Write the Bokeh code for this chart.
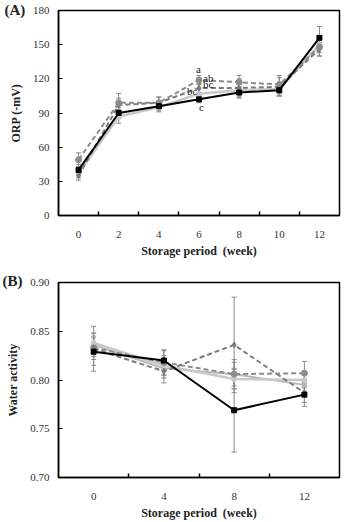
from bokeh.plotting import figure
from bokeh.layouts import column
from bokeh.models import FixedTicker, Whisker, ColumnDataSource, Label, Range1d, Title
from bokeh.embed import file_html
from bokeh.resources import INLINE

FONT = "Liberation Serif"

# ---------------- Panel A data (ORP) ----------------
weeks_a = [0, 2, 4, 6, 8, 10, 12]
orp_black = [40, 90, 96, 102, 108, 110, 156]
orp_black_err = [5, 5, 4, 3, 5, 5, 10]
orp_dash_circle = [49, 99, 99, 119, 117, 115, 148]
orp_dash_circle_err = [6, 8, 5, 4, 6, 8, 8]
orp_dash_diamond = [35, 97, 99, 112, 112, 113, 146]
orp_dash_diamond_err = [4, 6, 5, 4, 8, 8, 6]
orp_light = [37, 87, 95, 107, 110, 111, 150]
orp_light_err = [4, 6, 4, 4, 5, 6, 7]
letters_a = ["a", "ab", "bc", "bc", "c"]

# ---------------- Panel B data (water activity) ----------------
weeks_b = [0, 4, 8, 12]
aw_black = [0.829, 0.820, 0.769, 0.785]
aw_black_err = [0.014, 0.010, 0.043, 0.012]
aw_dash_diamond = [0.832, 0.809, 0.836, 0.787]
aw_dash_diamond_err = [0.023, 0.012, 0.049, 0.010]
aw_dash_circle = [0.833, 0.818, 0.806, 0.807]
aw_dash_circle_err = [0.012, 0.013, 0.015, 0.012]
aw_light = [0.838, 0.815, 0.801, 0.800]
aw_light_err = [0.010, 0.010, 0.010, 0.008]
aw_light2 = [0.836, 0.812, 0.806, 0.795]
aw_light2_err = [0.012, 0.010, 0.012, 0.010]

series_styles = {
    "black": dict(color="#000000", dash="solid", width=2, marker="square", size=5),
    "dash_circle": dict(color="#8c8c8c", dash="5 3", width=2, marker="circle", size=6),
    "dash_diamond": dict(color="#7a7a7a", dash="5 3", width=2, marker="diamond", size=6),
    "light": dict(color="#c8c8c8", dash="solid", width=2.5, marker="circle", size=5),
    "light2": dict(color="#b8b8b8", dash="solid", width=2, marker="triangle", size=5),
}


def style_fig(p, xticks, xminor, ylabel, yticks):
    p.outline_line_color = "black"
    p.outline_line_width = 1.5
    p.xgrid.visible = False
    p.ygrid.visible = False
    for ax in (p.xaxis[0], p.yaxis[0]):
        ax.axis_line_color = "black"
        ax.axis_line_width = 1.5
        ax.major_label_text_font = FONT
        ax.major_label_text_font_size = "11px"
        ax.major_label_text_color = "#333333"
        ax.axis_label_text_font = FONT
        ax.axis_label_text_font_style = "bold"
        ax.axis_label_text_font_size = "12px"
        ax.axis_label_text_color = "#222222"
    xa = p.xaxis[0]
    xa.ticker = FixedTicker(ticks=xticks, minor_ticks=xminor)
    xa.major_tick_line_color = None
    xa.minor_tick_in = 4
    xa.minor_tick_out = 0
    xa.minor_tick_line_color = "black"
    xa.minor_tick_line_width = 1.5
    xa.major_label_standoff = 9
    xa.axis_label = "Storage period\u00a0\u00a0(week)"
    xa.axis_label_standoff = 3
    ya = p.yaxis[0]
    ya.ticker = FixedTicker(ticks=yticks)
    ya.major_tick_in = 4
    ya.major_tick_out = 0
    ya.major_tick_line_color = "black"
    ya.minor_tick_line_color = None
    ya.major_label_standoff = 9
    ya.axis_label = ylabel
    ya.axis_label_standoff = 7


def add_series(p, x, y, err, key):
    st = series_styles[key]
    src = ColumnDataSource(dict(x=x, y=y,
                                lo=[v - e for v, e in zip(y, err)],
                                hi=[v + e for v, e in zip(y, err)]))
    w1 = Whisker(source=src, base="x", lower="lo", upper="hi",
                 line_color="#8a8a8a", line_width=1)
    w1.upper_head.size = 5
    w1.lower_head.size = 5
    w1.upper_head.line_color = "#8a8a8a"
    w1.lower_head.line_color = "#8a8a8a"
    p.add_layout(w1)
    p.line("x", "y", source=src, line_color=st["color"], line_width=st["width"],
           line_dash=st["dash"])
    p.scatter("x", "y", source=src, marker=st["marker"], size=st["size"],
              fill_color=st["color"], line_color=st["color"])


def panel_title(text, offset, standoff):
    return Title(text=text, align="left", offset=offset, standoff=standoff,
                 text_font=FONT, text_font_style="bold", text_font_size="15px",
                 text_color="#222222", vertical_align="bottom")


# ---------------- Figure A ----------------
pA = figure(width=344, height=260, output_backend="svg", toolbar_location=None,
            x_range=Range1d(-1, 13), y_range=Range1d(0, 180),
            min_border_left=57, min_border_right=2, min_border_top=10,
            min_border_bottom=39)
pA.title = None
pA.add_layout(panel_title("(A)", -54, -14), "above")
style_fig(pA, [0, 2, 4, 6, 8, 10, 12], [1, 3, 5, 7, 9, 11], "ORP (-mV)",
          [0, 30, 60, 90, 120, 150, 180])
add_series(pA, weeks_a, orp_light, orp_light_err, "light")
add_series(pA, weeks_a, orp_dash_diamond, orp_dash_diamond_err, "dash_diamond")
add_series(pA, weeks_a, orp_dash_circle, orp_dash_circle_err, "dash_circle")
add_series(pA, weeks_a, orp_black, orp_black_err, "black")

# significance letters at week 6
i6 = weeks_a.index(6)
letter_anchor = [
    (orp_dash_circle[i6], -3, 5),
    (orp_dash_circle[i6], 4, -4),
    (orp_dash_diamond[i6], 4, -2),
    (orp_light[i6], -12, -3),
    (orp_black[i6], 0, -14),
]
for txt, (yv, xo, yo) in zip(letters_a, letter_anchor):
    pA.add_layout(Label(x=6, y=yv, x_offset=xo, y_offset=yo, text=txt,
                        text_font=FONT, text_font_size="11px",
                        text_color="#222222", text_align="left",
                        text_baseline="bottom"))

# ---------------- Figure B ----------------
pB = figure(width=344, height=262, output_backend="svg", toolbar_location=None,
            x_range=Range1d(-2, 14), y_range=Range1d(0.70, 0.90),
            min_border_left=58, min_border_right=5, min_border_top=22,
            min_border_bottom=38)
pB.title = None
pB.add_layout(panel_title("(B)", -56, -13), "above")
style_fig(pB, [0, 4, 8, 12], [2, 6, 10], "Water activity",
          [0.70, 0.75, 0.80, 0.85, 0.90])
pB.yaxis[0].major_label_overrides = {0.70: "0.70", 0.75: "0.75", 0.80: "0.80",
                                     0.85: "0.85", 0.90: "0.90"}
add_series(pB, weeks_b, aw_light2, aw_light2_err, "light2")
add_series(pB, weeks_b, aw_light, aw_light_err, "light")
add_series(pB, weeks_b, aw_dash_circle, aw_dash_circle_err, "dash_circle")
add_series(pB, weeks_b, aw_dash_diamond, aw_dash_diamond_err, "dash_diamond")
add_series(pB, weeks_b, aw_black, aw_black_err, "black")

layout = column(pA, pB, spacing=0)
open("out.html", "w").write(file_html(layout, INLINE))
